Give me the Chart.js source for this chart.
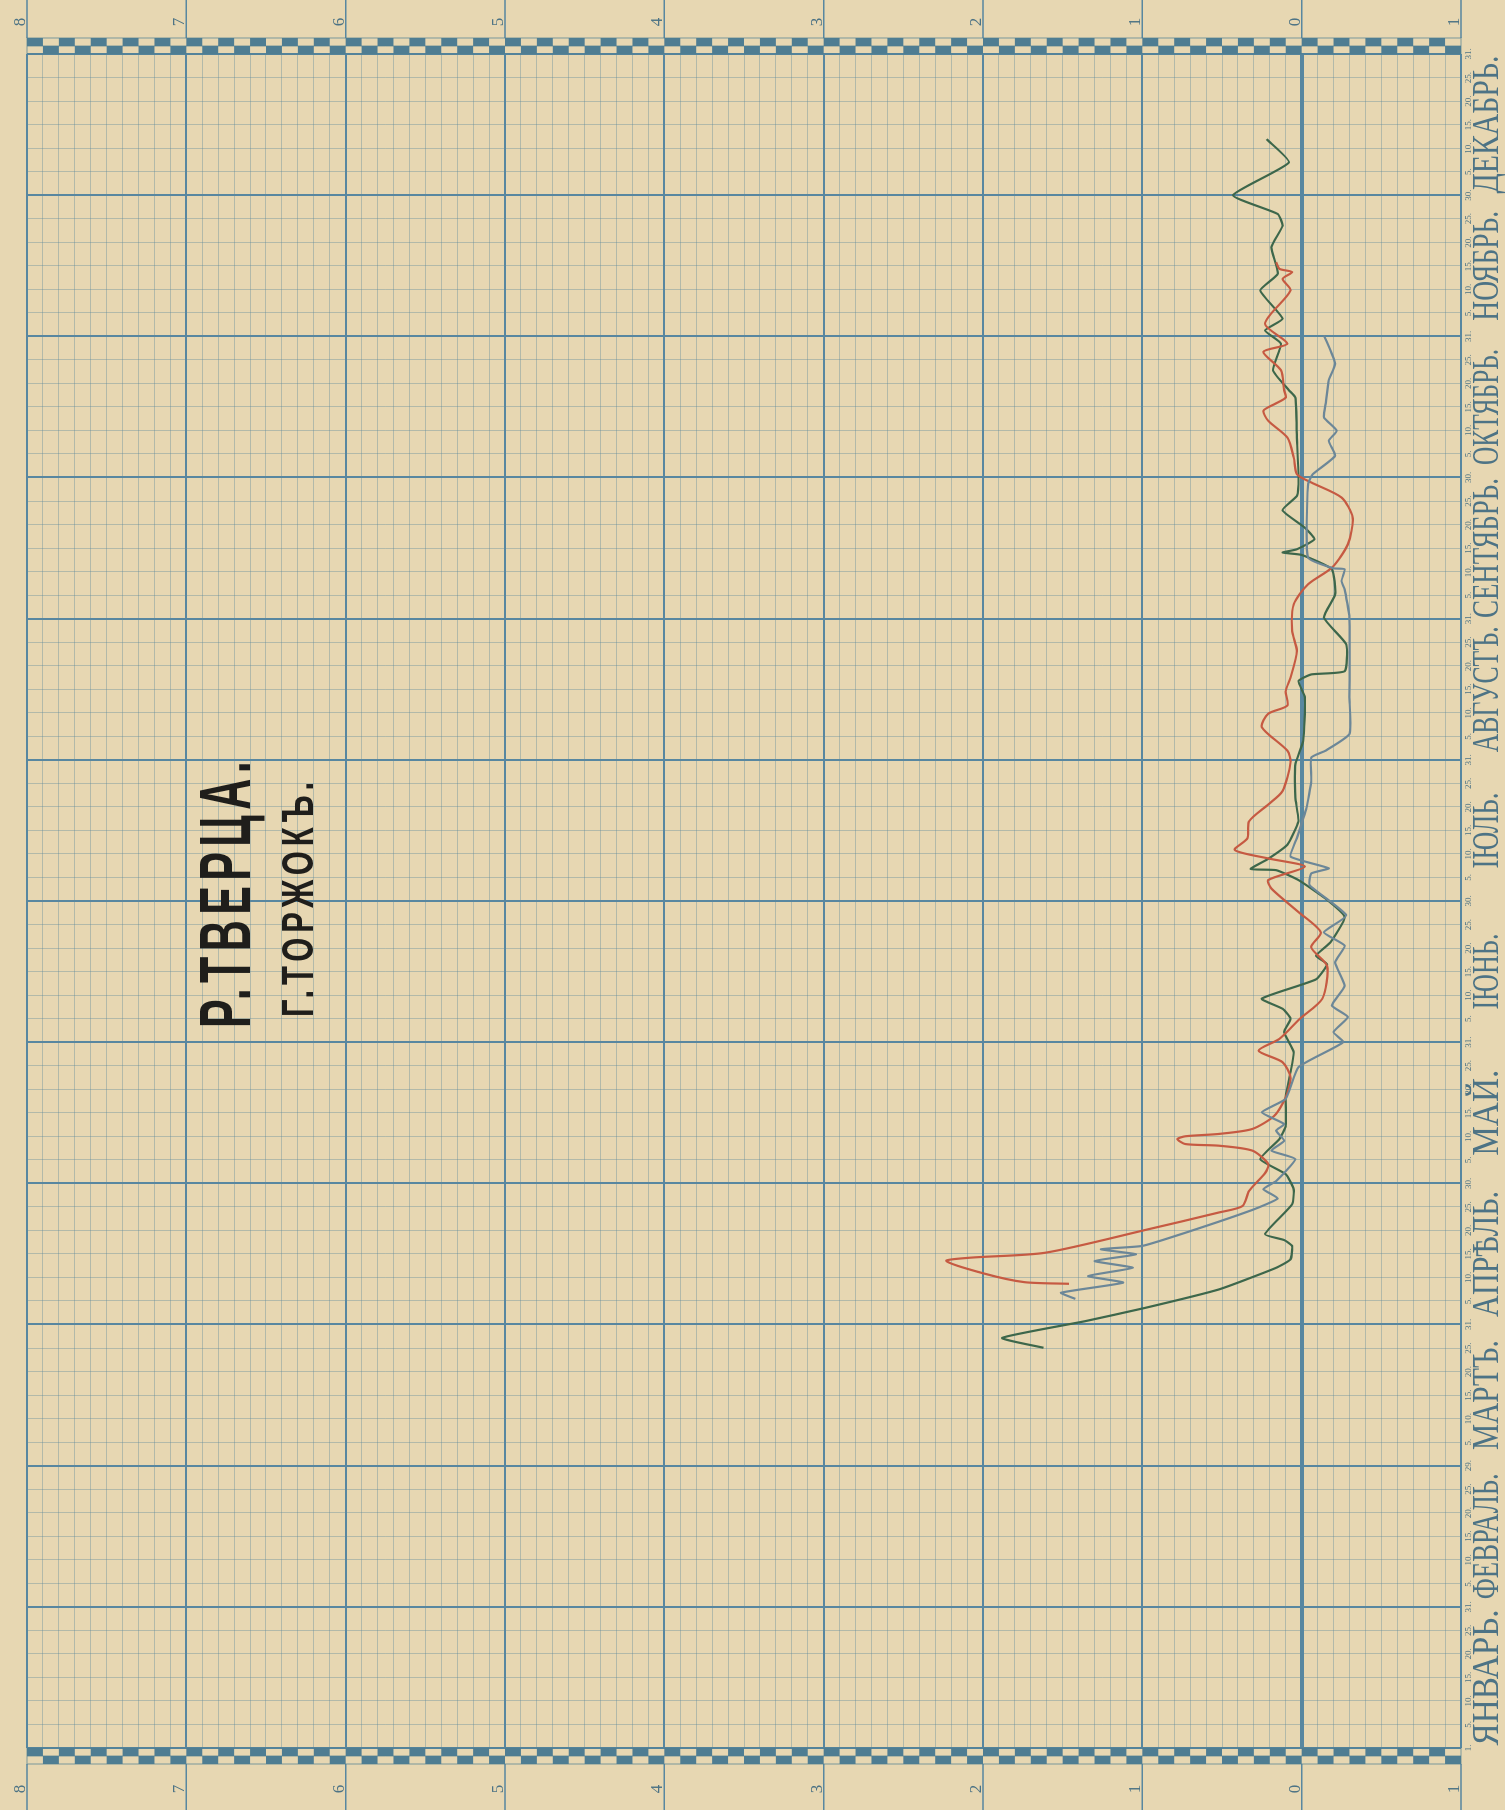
<!DOCTYPE html>
<html lang="ru">
<head>
<meta charset="utf-8">
<title>Р. Тверца. г. Торжокъ</title>
<script src="https://cdn.jsdelivr.net/npm/chart.js@4.4.1/dist/chart.umd.min.js"></script>
<style>
  html, body { margin: 0; padding: 0; background: #e7d7b2; }
  body { width: 1505px; height: 1810px; overflow: hidden; position: relative; }
  /* the sheet is printed sideways: draw it upright, then turn it a quarter left */
  #sheet { position: absolute; left: 0; top: 0; transform-origin: 0 0; transform: translateY(1810px) rotate(-90deg); }
</style>
</head>
<body>
<canvas id="sheet" width="1810" height="1505"></canvas>
<script>
// ==== DATA ====
// time axis: 6 equal steps per month (1-5, 5-10, ... 25-end), 0 = 1 January
const months = ["ЯНВАРЬ.", "ФЕВРАЛЬ.", "МАРТЪ.", "АПРѢЛЬ.", "МАЙ.", "ІЮНЬ.",
                "ІЮЛЬ.", "АВГУСТЪ.", "СЕНТЯБРЬ.", "ОКТЯБРЬ.", "НОЯБРЬ.", "ДЕКАБРЬ."];
const monthDays = [31, 29, 31, 30, 31, 30, 31, 31, 30, 31, 30, 31];
const dayMarks = [5, 10, 15, 20, 25];

// water level scale
const levelTicks = [8, 7, 6, 5, 4, 3, 2, 1, 0, -1];
const levelLabels = ["8", "7", "6", "5", "4", "3", "2", "1", "0", "1"];

// dark green curve
const greenT = [17.01, 17.43, 18.14, 18.71, 19.49, 20.41, 20.77, 21.34, 21.59, 21.84, 23.11, 23.75,
  24.39, 25.03, 25.88, 26.45, 27.73, 28.72, 29.58, 30.43, 31.00, 31.42, 31.85, 32.67, 33.31, 33.67,
  34.24, 35.31, 36.10, 36.89, 37.31, 37.36, 37.79, 38.39, 39.39, 40.39, 41.81, 42.81, 44.67, 45.35,
  45.63, 45.77, 46.91, 48.04, 49.04, 50.10, 50.71, 50.81, 50.95, 51.38, 51.87, 52.61, 53.22, 54.00,
  55.70, 57.40, 57.71, 58.56, 59.69, 60.25, 60.75, 61.95, 62.66, 63.79, 64.70, 65.20, 66.00, 67.39, 68.38];
const greenH = [1.62, 1.88, 1.36, 0.98, 0.52, 0.16, 0.07, 0.06, 0.11, 0.23, 0.06, 0.05,
  0.10, 0.26, 0.14, 0.10, 0.10, 0.07, 0.05, 0.11, 0.07, 0.12, 0.25, -0.09, -0.16, -0.09,
  -0.18, -0.27, -0.15, 0.02, 0.16, 0.32, 0.21, 0.09, 0.02, 0.04, 0.04, -0.01, -0.02, 0.02,
  -0.06, -0.27, -0.28, -0.14, -0.21, -0.19, 0.00, 0.12, 0.03, -0.08, -0.02, 0.12, 0.03, 0.02,
  0.03, 0.04, 0.08, 0.18, 0.13, 0.23, 0.12, 0.26, 0.15, 0.19, 0.12, 0.15, 0.43, 0.08, 0.22];

// red curve
const redT = [19.73, 19.80, 20.16, 20.70, 20.84, 21.05, 22.02, 22.76, 23.04, 23.68, 24.43, 24.82,
  25.39, 25.60, 25.67, 25.88, 26.00, 26.10, 26.31, 26.88, 27.66, 28.51, 29.15, 29.64, 30.14, 31.00,
  31.85, 33.24, 34.03, 34.67, 35.53, 36.53, 36.89, 37.46, 37.81, 38.17, 38.67, 39.39, 40.10, 40.67,
  41.89, 42.39, 43.39, 43.96, 44.31, 44.92, 45.49, 46.62, 47.48, 48.61, 49.46, 50.17, 51.16, 52.30,
  53.15, 53.79, 54.14, 54.85, 55.70, 56.41, 56.84, 57.12, 57.40, 57.71, 58.56, 59.34, 59.69, 60.54,
  61.95, 62.44, 62.73, 62.87, 63.15];
const redH = [1.46, 1.74, 1.99, 2.23, 2.08, 1.61, 0.98, 0.52, 0.37, 0.33, 0.23, 0.21,
  0.31, 0.52, 0.73, 0.78, 0.73, 0.52, 0.31, 0.17, 0.10, 0.07, 0.12, 0.27, 0.14, 0.01,
  -0.13, -0.16, -0.06, -0.12, 0.02, 0.19, 0.21, -0.02, 0.21, 0.42, 0.34, 0.33, 0.21, 0.12,
  0.07, 0.09, 0.25, 0.21, 0.09, 0.10, 0.07, 0.03, 0.06, 0.05, -0.04, -0.19, -0.29, -0.32,
  -0.25, -0.06, 0.03, 0.05, 0.09, 0.21, 0.24, 0.17, 0.10, 0.11, 0.13, 0.24, 0.09, 0.23,
  0.07, 0.12, 0.06, 0.14, 0.16];

// grey-blue curve
const greyT = [19.09, 19.35, 19.78, 20.06, 20.41, 20.70, 20.98, 21.20, 21.34, 21.90, 22.87, 23.36,
  23.75, 24.10, 25.03, 25.39, 25.81, 26.24, 26.52, 27.02, 27.59, 28.94, 30.00, 30.43, 31.07, 31.56,
  32.39, 33.39, 34.10, 34.67, 35.39, 36.67, 37.17, 37.39, 37.89, 38.67, 39.96, 41.10, 42.10, 42.39,
  43.10, 44.67, 48.04, 49.25, 49.60, 50.10, 50.14, 50.60, 53.72, 54.14, 54.92, 55.56, 55.99, 56.55,
  57.12, 58.14, 58.84, 60.04];
const greyH = [1.42, 1.51, 1.12, 1.34, 1.06, 1.30, 1.04, 1.26, 1.00, 0.73, 0.31, 0.15,
  0.24, 0.16, 0.04, 0.19, 0.11, 0.16, 0.11, 0.25, 0.10, 0.02, -0.26, -0.20, -0.29, -0.19,
  -0.27, -0.21, -0.27, -0.14, -0.28, -0.05, -0.06, -0.17, 0.07, 0.03, -0.03, -0.06, -0.06, -0.15,
  -0.30, -0.30, -0.30, -0.27, -0.25, -0.27, -0.20, -0.04, -0.04, -0.07, -0.21, -0.17, -0.22, -0.14,
  -0.15, -0.17, -0.21, -0.14];

// ==== STYLE ====
const PAPER = "#e7d7b2";
const GRID = "#5887a0";
const GRID_MINOR = "rgba(92, 138, 156, 0.38)";
const INK = "#4d7385";
// printed length of each month name, px
const monthLabelWidth = [136, 126, 110, 126, 86, 76, 76, 126, 140, 116, 110, 138];

function curve(t, h, color, tension) {
    return {
        data: t.map((v, i) => ({ x: v, y: h[i] })),
        showLine: true,
        borderColor: color,
        borderWidth: 2.2,
        pointRadius: 0,
        tension: tension,
        fill: false
    };
}

function isWhole(v) {
    return Math.abs(v - Math.round(v)) < 1e-6;
}

// draw text squeezed or stretched sideways to a given width
function fitText(ctx, text, x, y, width) {
    const w = ctx.measureText(text).width;
    ctx.save();
    ctx.translate(x, y);
    ctx.scale(width / w, 1);
    ctx.fillText(text, 0, 0);
    ctx.restore();
}

const paper = {
    id: "paper",
    beforeDraw(chart) {
        const ctx = chart.ctx;
        ctx.save();
        ctx.fillStyle = PAPER;
        ctx.fillRect(0, 0, chart.width, chart.height);
        ctx.restore();
    }
};

const sheetText = {
    id: "sheetText",
    afterDraw(chart) {
        const ctx = chart.ctx;
        const xs = chart.scales.x;
        const ys = chart.scales.y;
        const area = chart.chartArea;
        ctx.save();

        // level lines run on past the plot to the sheet edge
        ctx.strokeStyle = GRID;
        ctx.lineWidth = 1.5;
        levelTicks.forEach(v => {
            const y = ys.getPixelForValue(v);
            ctx.beginPath();
            ctx.moveTo(0, y); ctx.lineTo(area.left - 16, y);
            ctx.moveTo(area.right + 16, y); ctx.lineTo(chart.width, y);
            ctx.stroke();
        });

        // chequered bands at both ends of the year
        [area.right, area.left - 16].forEach(bx => {
            ctx.fillStyle = "#4f7d92";
            for (let k = 0; k < 90; k++) {
                const y0 = ys.getPixelForValue(8 - k * 0.1);
                const y1 = ys.getPixelForValue(8 - (k + 1) * 0.1);
                const col = k % 2 === 0 ? bx + 8 : bx;
                ctx.fillRect(col, y0, 8, y1 - y0);
            }
            ctx.strokeStyle = "rgba(79, 125, 146, 0.7)";
            ctx.lineWidth = 1;
            ctx.strokeRect(bx, area.top, 16, area.bottom - area.top);
            ctx.beginPath();
            ctx.moveTo(bx + 8, area.top); ctx.lineTo(bx + 8, area.bottom);
            ctx.stroke();
        });

        // level numbers on both ends
        ctx.fillStyle = INK;
        ctx.font = '17px "Liberation Serif"';
        ctx.textAlign = "center";
        ctx.textBaseline = "alphabetic";
        levelTicks.forEach((v, i) => {
            const y = ys.getPixelForValue(v) - 2;
            ctx.fillText(levelLabels[i], 1788, y);
            ctx.fillText(levelLabels[i], 21, y);
        });

        // day numbers under the plot
        ctx.font = '9px "Liberation Serif"';
        ctx.textBaseline = "top";
        for (let i = 0; i <= 72; i++) {
            const m = Math.floor(i / 6), k = i % 6;
            let label;
            if (i === 0) label = "1.";
            else if (k === 0) label = monthDays[m - 1] + ".";
            else label = dayMarks[k - 1] + ".";
            ctx.fillText(label, xs.getPixelForValue(i), area.bottom + 3);
        }

        // month names
        ctx.font = '37px "Liberation Serif"';
        ctx.textBaseline = "alphabetic";
        ctx.textAlign = "left";
        months.forEach((name, m) => {
            const mid = (xs.getPixelForValue(m * 6) + xs.getPixelForValue(m * 6 + 6)) / 2;
            const w = monthLabelWidth[m];
            fitText(ctx, name, mid - w / 2, 1498, w);
        });

        // title
        ctx.fillStyle = "#1f1e1b";
        ctx.letterSpacing = "9px";
        ctx.font = 'bold 72px "Liberation Sans"';
        fitText(ctx, "Р.ТВЕРЦА.", 782, 250, 272);
        ctx.letterSpacing = "7px";
        ctx.font = 'bold 44px "Liberation Sans"';
        fitText(ctx, "Г.ТОРЖОКЪ.", 793, 313, 240);
        ctx.letterSpacing = "0px";

        ctx.restore();
    }
};

new Chart(document.getElementById("sheet"), {
    type: "scatter",
    data: {
        datasets: [
            curve(greyT, greyH, "#6c8798", 0.15),
            curve(redT, redH, "#c65a42", 0.25),
            curve(greenT, greenH, "#3d674b", 0.15)
        ]
    },
    options: {
        responsive: false,
        animation: false,
        devicePixelRatio: 1,
        events: [],
        layout: { padding: { left: 62, right: 54, top: 27, bottom: 44 } },
        plugins: { legend: { display: false }, tooltip: { enabled: false } },
        scales: {
            x: {
                type: "linear", min: 0, max: 72,
                ticks: { display: false, stepSize: 1, autoSkip: false },
                border: { display: false },
                grid: {
                    drawTicks: false,
                    color: c => c.tick.value % 6 === 0 ? GRID : GRID_MINOR,
                    lineWidth: c => c.tick.value % 6 === 0 ? 2 : 1
                },
                afterFit: s => { s.height = 0; }
            },
            y: {
                type: "linear", min: -1, max: 8,
                ticks: { display: false, stepSize: 0.1, autoSkip: false },
                border: { display: false },
                grid: {
                    drawTicks: false,
                    color: c => isWhole(c.tick.value) ? GRID : GRID_MINOR,
                    lineWidth: c => {
                        const v = c.tick.value;
                        if (Math.abs(v) < 1e-6) return 4;
                        return isWhole(v) ? 2 : 1;
                    }
                },
                afterFit: s => { s.width = 0; }
            }
        }
    },
    plugins: [paper, sheetText]
});
</script>
</body>
</html>
